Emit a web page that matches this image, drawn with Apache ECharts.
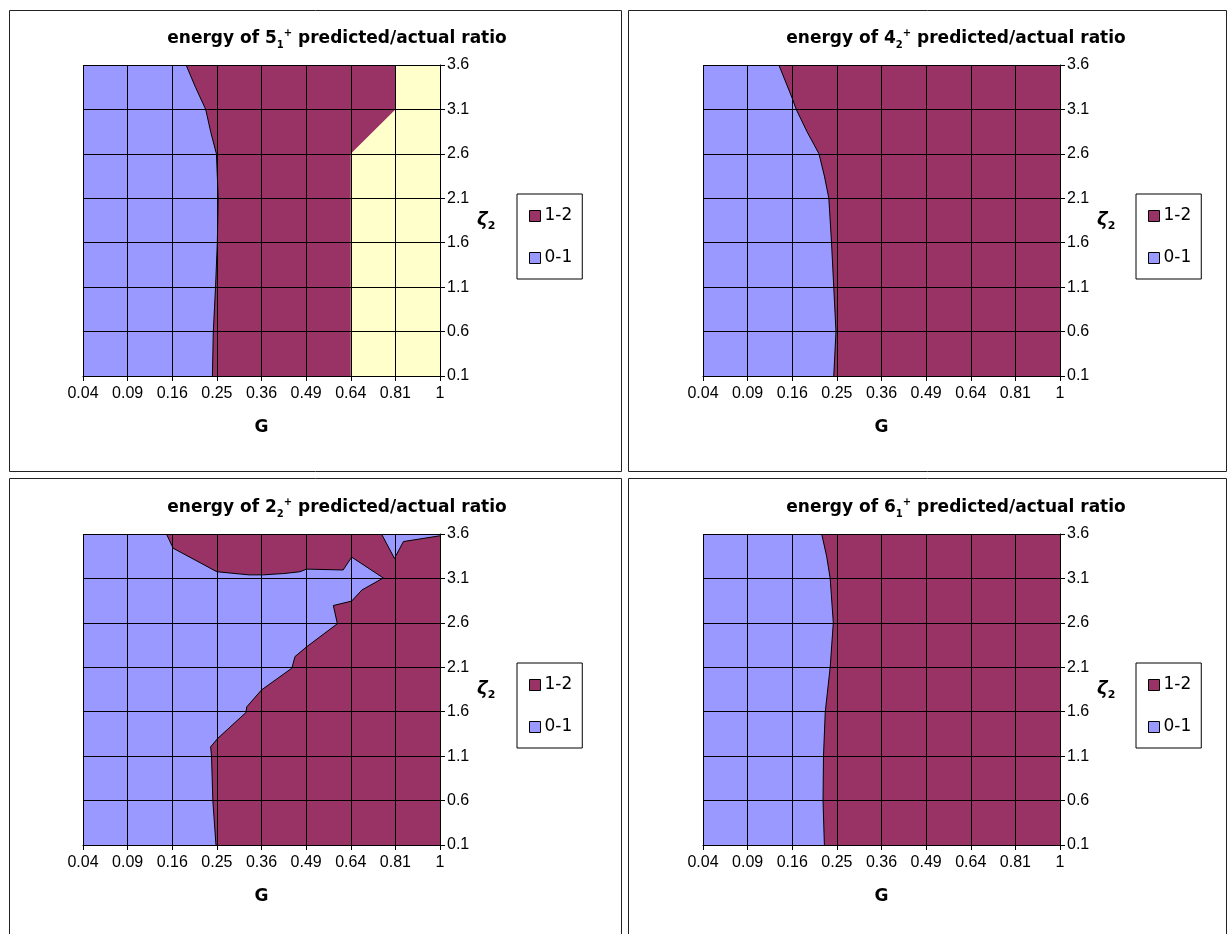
<!DOCTYPE html>
<html>
<head>
<meta charset="utf-8">
<script src="https://cdn.jsdelivr.net/npm/echarts@6/dist/echarts.min.js"></script>
<style>
html,body{margin:0;padding:0;background:#fff;}
#chart{width:1228px;height:934px;}
</style>
</head>
<body>
<div id="chart"></div>
<script>
// ---- tick labels ----
const gLabels = ['0.04','0.09','0.16','0.25','0.36','0.49','0.64','0.81','1'];
const zetaLabels = ['0.1','0.6','1.1','1.6','2.1','2.6','3.1','3.6'];
const legendNames = ['1-2','0-1'];

// ---- panel titles (state, subscript) ----
const titleState = ['5','4','2','6'];
const titleSub = ['1','2','2','1'];

// ---- contour boundaries, [G index, zeta index] ----
// 0-1 | 1-2 boundary, energy of 5_1+
const bound51 = [[2.31,7],[2.52,6.5],[2.75,6.0],[2.86,5.5],[2.99,5.0],[3.03,4.0],[3.01,3.0],[2.97,2.0],[2.92,1.0],[2.90,0]];
// 1-2 | 2-3 boundary, energy of 5_1+
const bound51hi = [[7,7],[7,6],[6,5],[6,0]];
// 0-1 | 1-2 boundary, energy of 4_2+
const bound42 = [[1.70,7],[2.0,6.25],[2.09,6.0],[2.33,5.5],[2.60,5.0],[2.72,4.5],[2.82,4.0],[2.88,3.0],[2.93,2.0],[2.98,1.0],[2.93,0]];
// 0-1 | 1-2 boundary, energy of 2_2+
const bound22 = [[1.87,7],[2.02,6.68],[3.0,6.15],[3.72,6.08],[4.04,6.08],[4.5,6.11],[4.86,6.15],[5.01,6.21],[5.83,6.19],[6.02,6.48],[6.73,6.01],
  [6.25,5.74],[6.02,5.49],[5.61,5.39],[5.70,4.98],[5.01,4.46],[4.75,4.24],[4.68,3.98],[4.0,3.49],[3.67,3.11],[3.65,2.98],[3.02,2.40],[2.86,2.21],[2.88,2.0],[2.91,1.0],[2.98,0]];
// 0-1 notch at the top right, energy of 2_2+
const notch22 = [[6.69,7],[6.98,6.45],[7.18,6.83],[8,6.96]];
// 0-1 | 1-2 boundary, energy of 6_1+
const bound61 = [[2.66,7],[2.77,6.5],[2.85,6.0],[2.92,5.0],[2.85,4.0],[2.74,3.0],[2.70,2.0],[2.69,1.0],[2.72,0]];

// ---- layout / style ----
const COL_HI = '#993366', COL_LO = '#9999FF', COL_Y = '#FFFFCC';
const grids = [
  {left:83, top:65, width:357, height:311},
  {left:703, top:65, width:357, height:311},
  {left:83, top:534, width:357, height:311},
  {left:703, top:534, width:357, height:311}
];
const titlePos = [[337,28],[956,28],[337,497],[956,497]];
const legendPos = [[517,194],[1136,194],[517,663],[1136,663]];
const boxes = [[9,10,612,461],[628,10,598,461],[9,478,612,470],[628,478,598,470]];

const xMax = gLabels.length - 1, yMax = zetaLabels.length - 1;
const full = [[0,0],[xMax,0],[xMax,yMax],[0,yMax]];
const rightOf = c => c.concat([[xMax,0],[xMax,yMax]]);
const cornerOf = c => c.concat([[xMax,yMax]]);

function poly(name, idx, pts, color, z) {
  return {
    type:'custom', name, xAxisIndex:idx, yAxisIndex:idx, data:[[0,0]], z:z||2, silent:true,
    itemStyle:{color, borderColor:'#000', borderWidth:1},
    renderItem:(p, api) => ({type:'polygon', shape:{points: pts.map(q => api.coord(q))}, style:{fill:color, stroke:'none'}})
  };
}
function edge(idx, pts) {
  return {type:'line', xAxisIndex:idx, yAxisIndex:idx, data:pts, symbol:'none', silent:true, z:4,
    lineStyle:{color:'#000', width:1}};
}

const series = [];
// panel 0: 5_1+
series.push(poly('0-1',0,full,COL_LO), poly('1-2',0,rightOf(bound51),COL_HI), poly('2-3',0,rightOf(bound51hi),COL_Y,3), edge(0,bound51));
// panel 1: 4_2+
series.push(poly('0-1',1,full,COL_LO), poly('1-2',1,rightOf(bound42),COL_HI), edge(1,bound42));
// panel 2: 2_2+
series.push(poly('0-1',2,full,COL_LO), poly('1-2',2,rightOf(bound22),COL_HI), poly('0-1',2,cornerOf(notch22),COL_LO,3), edge(2,bound22), edge(2,notch22));
// panel 3: 6_1+
series.push(poly('0-1',3,full,COL_LO), poly('1-2',3,rightOf(bound61),COL_HI), edge(3,bound61));

const tickFont = {fontFamily:'Liberation Sans', fontSize:16, color:'#000'};
const xAxes = grids.map((g,i) => ({
  type:'value', gridIndex:i, min:0, max:xMax, interval:1, z:5,
  name:'G', nameLocation:'middle', nameGap:43,
  nameTextStyle:{fontFamily:'DejaVu Sans', fontWeight:'bold', fontSize:17, color:'#000'},
  axisLine:{show:true, lineStyle:{color:'#000', width:1}},
  axisTick:{show:true, length:5, lineStyle:{color:'#000'}},
  splitLine:{show:true, lineStyle:{color:'#000', width:1}},
  axisLabel:Object.assign({margin:10, showMinLabel:true, showMaxLabel:true, hideOverlap:false,
    formatter:v => gLabels[v]}, tickFont)
}));
const yAxes = grids.map((g,i) => ({
  type:'value', gridIndex:i, min:0, max:yMax, interval:1, position:'right', z:5,
  name:'{z|ζ}{s|2}', nameLocation:'middle', nameGap:37, nameRotate:0,
  nameTextStyle:{color:'#000', rich:{
    z:{fontFamily:'DejaVu Sans', fontWeight:'bold', fontStyle:'italic', fontSize:18, lineHeight:22},
    s:{fontFamily:'DejaVu Sans', fontWeight:'bold', fontSize:11, lineHeight:12, verticalAlign:'bottom'}}},
  axisLine:{show:true, onZero:false, lineStyle:{color:'#000', width:1}},
  axisTick:{show:true, length:5, lineStyle:{color:'#000'}},
  splitLine:{show:true, lineStyle:{color:'#000', width:1}},
  axisLabel:Object.assign({margin:7, showMinLabel:true, showMaxLabel:true, hideOverlap:false,
    formatter:v => zetaLabels[v]}, tickFont)
}));

const titles = titlePos.map((p,i) => ({
  left:p[0], top:p[1], textAlign:'center', padding:0,
  text:'{m|energy of ' + titleState[i] + '}{sub|' + titleSub[i] + '}{sup|+}{m| predicted/actual ratio}',
  textStyle:{color:'#000', rich:{
    m:{fontFamily:'DejaVu Sans', fontWeight:'bold', fontSize:17, lineHeight:22, color:'#000'},
    sub:{fontFamily:'DejaVu Sans', fontWeight:'bold', fontSize:10, lineHeight:14, verticalAlign:'bottom', color:'#000'},
    sup:{fontFamily:'DejaVu Sans', fontWeight:'bold', fontSize:10, lineHeight:14, verticalAlign:'top', color:'#000'}
  }}
}));

const legends = legendPos.map(p => ({
  left:p[0], top:p[1], orient:'vertical', data:legendNames, selectedMode:false,
  padding:[12,10,11,12], itemGap:22, itemWidth:11, itemHeight:11, icon:'rect',
  borderColor:'#000', borderWidth:1, backgroundColor:'#fff',
  itemStyle:{borderColor:'#000', borderWidth:1},
  textStyle:{fontFamily:'DejaVu Sans', fontSize:17, color:'#000', lineHeight:20, padding:[0,0,0,-1]}
}));

const graphics = boxes.map(b => ({type:'rect', silent:true, z:-1,
  shape:{x:b[0]+0.5, y:b[1]+0.5, width:b[2], height:b[3]}, style:{fill:'none', stroke:'#222', lineWidth:1}}));

const chart = echarts.init(document.getElementById('chart'), null, {renderer:'canvas'});
chart.setOption({
  animation:false,
  backgroundColor:'#fff',
  title:titles,
  legend:legends,
  grid:grids.map(g => Object.assign({containLabel:false, outerBoundsMode:'none', show:false}, g)),
  xAxis:xAxes,
  yAxis:yAxes,
  graphic:graphics,
  series:series
});
</script>
</body>
</html>
